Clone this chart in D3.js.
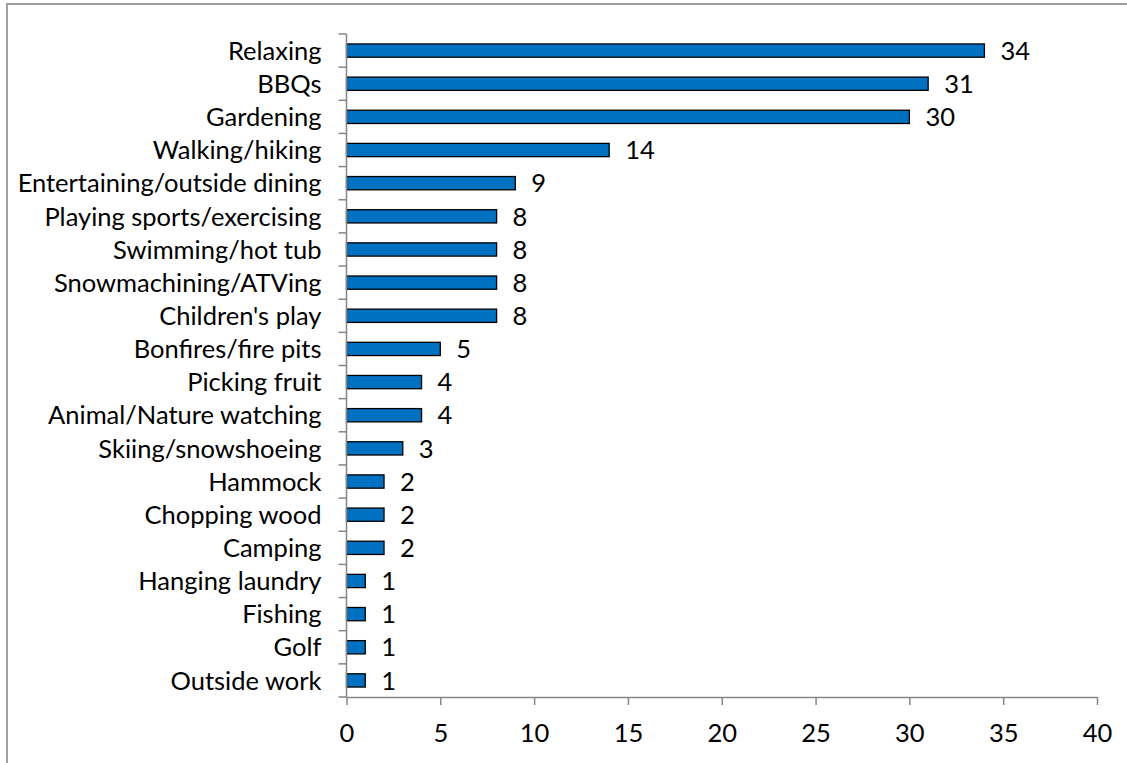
<!DOCTYPE html>
<html>
<head>
<meta charset="utf-8">
<script src="https://cdn.jsdelivr.net/npm/d3@7"></script>
<style>
  html, body { margin: 0; padding: 0; background: #fff; }
  svg { display: block; }
  text { font-family: Lato, "Open Sans", sans-serif; fill: #000; }
</style>
</head>
<body>
<svg id="chart" width="1127" height="763"></svg>
<script>
const categories = [
  "Relaxing", "BBQs", "Gardening", "Walking/hiking", "Entertaining/outside dining",
  "Playing sports/exercising", "Swimming/hot tub", "Snowmachining/ATVing", "Children's play",
  "Bonfires/fire pits", "Picking fruit", "Animal/Nature watching", "Skiing/snowshoeing",
  "Hammock", "Chopping wood", "Camping", "Hanging laundry", "Fishing", "Golf", "Outside work"
];
const values = [34, 31, 30, 14, 9, 8, 8, 8, 8, 5, 4, 4, 3, 2, 2, 2, 1, 1, 1, 1];
const xTicks = [0, 5, 10, 15, 20, 25, 30, 35, 40];

(function () {
const svg = d3.select("#chart");
const W = 1127, H = 763;
const pLeft = 346.5, pRight = 1097, pTop = 34, pBottom = 697;
const axisColor = "#868686";
const fontSize = 25.5;

// chart border (top and left visible)
svg.append("rect").attr("x", 7).attr("y", 4).attr("width", W + 20).attr("height", H + 20)
  .attr("fill", "none").attr("stroke", "#a0a0a0").attr("stroke-width", 2);

const x = d3.scaleLinear().domain([0, 40]).range([pLeft, pRight]);
const y = d3.scaleBand().domain(categories).range([pTop, pBottom]).paddingInner(0.6).paddingOuter(0.3);
const yBounds = d3.scaleBand().domain(categories).range([pTop, pBottom]);

// bars
svg.append("g").selectAll("rect").data(values).join("rect")
  .attr("x", x(0))
  .attr("y", (d, i) => y(categories[i]))
  .attr("width", d => x(d) - x(0))
  .attr("height", y.bandwidth())
  .attr("fill", "#0070C0")
  .attr("stroke", "#000")
  .attr("stroke-width", 1.3);

// value labels
svg.append("g").selectAll("text").data(values).join("text")
  .attr("x", d => x(d) + 16)
  .attr("y", (d, i) => yBounds(categories[i]) + yBounds.bandwidth() / 2)
  .attr("dy", "0.36em")
  .attr("font-size", fontSize)
  .text(d => d);

// y axis line and ticks (at category boundaries)
const gy = svg.append("g");
gy.append("line").attr("x1", pLeft).attr("x2", pLeft).attr("y1", pTop).attr("y2", pBottom)
  .attr("stroke", axisColor).attr("stroke-width", 1.5);
const bounds = categories.map(c => yBounds(c)).concat([pBottom]);
gy.selectAll("line.t").data(bounds).join("line").attr("class", "t")
  .attr("x1", pLeft - 8).attr("x2", pLeft).attr("y1", d => d).attr("y2", d => d)
  .attr("stroke", axisColor).attr("stroke-width", 1.5);
gy.selectAll("text").data(categories).join("text")
  .attr("x", pLeft - 25)
  .attr("y", c => yBounds(c) + yBounds.bandwidth() / 2)
  .attr("dy", "0.36em")
  .attr("text-anchor", "end")
  .attr("font-size", fontSize)
  .text(c => c);

// x axis
const xAxis = d3.axisBottom(x).tickValues(xTicks).tickSize(8).tickPadding(19).tickSizeOuter(0);
const gx = svg.append("g").attr("transform", `translate(0,${pBottom})`).call(xAxis);
gx.select(".domain").attr("stroke", axisColor).attr("stroke-width", 1.5);
gx.selectAll(".tick line").attr("stroke", axisColor).attr("stroke-width", 1.5);
gx.selectAll(".tick text").attr("font-size", fontSize).attr("font-family", "Lato, 'Open Sans', sans-serif").attr("fill", "#000");
})();
</script>
</body>
</html>
